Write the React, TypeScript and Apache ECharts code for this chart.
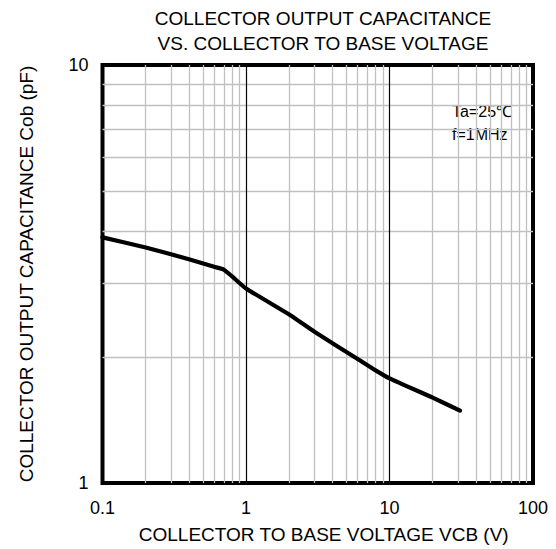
import React, { useEffect, useRef } from "react";
import * as echarts from "echarts";

const titleLines = ["COLLECTOR OUTPUT CAPACITANCE", "VS. COLLECTOR TO BASE VOLTAGE"];
const xName = "COLLECTOR TO BASE VOLTAGE VCB (V)";
const yName = "COLLECTOR OUTPUT CAPACITANCE Cob (pF)";
const noteLines = ["Ta=25\u2103", "f=1MHz"];

const vcb = [0.1, 0.2, 0.4, 0.6, 0.7, 0.8, 1, 2, 3, 6, 8, 10, 20, 31];
const cob = [3.87, 3.66, 3.43, 3.29, 3.24, 3.12, 2.92, 2.53, 2.3, 1.98, 1.86, 1.78, 1.6, 1.49];

const xMin = 0.1;
const xMax = 100;
const yMin = 1;
const yMax = 10;
const xMinorGrid = [0.2, 0.3, 0.4, 0.5, 0.6, 0.7, 0.8, 0.9, 2, 3, 4, 5, 6, 7, 8, 9, 20, 30, 40, 50, 60, 70, 80, 90];
const xMajorGrid = [1, 10];
const yMinorGrid = [2, 3, 4, 5, 6, 7, 8, 9];

const FONT = "'Liberation Sans', Arial, sans-serif";

export default function App() {
  const ref = useRef<HTMLDivElement>(null);
  useEffect(() => {
    if (!ref.current) return;
    const chart = echarts.init(ref.current, null, { renderer: "svg" });
    const vLines = (vals: number[]) => vals.map((v) => [{ coord: [v, yMin] }, { coord: [v, yMax] }]);
    const hLines = (vals: number[]) => vals.map((v) => [{ coord: [xMin, v] }, { coord: [xMax, v] }]);
    chart.setOption({
      animation: false,
      backgroundColor: "#fff",
      textStyle: { fontFamily: FONT },
      title: {
        text: titleLines.join("\n"),
        left: 318,
        top: 1,
        textAlign: "center",
        textStyle: { fontFamily: FONT, fontSize: 19, fontWeight: "normal", color: "#000", lineHeight: 25 },
      },
      grid: {
        left: 102.5,
        right: 23,
        top: 65,
        bottom: 66,
        show: true,
        borderWidth: 4,
        borderColor: "#000",
        backgroundColor: "transparent",
        z: 2,
      },
      xAxis: {
        type: "log",
        logBase: 10,
        min: xMin,
        max: xMax,
        name: xName,
        nameLocation: "middle",
        nameGap: 42,
        nameTextStyle: { fontFamily: FONT, fontSize: 19, color: "#000", padding: [0, 0, 0, 12] },
        axisLine: { show: false },
        axisTick: { show: false },
        splitLine: { show: false },
        axisLabel: {
          fontFamily: FONT,
          fontSize: 18,
          color: "#000",
          margin: 16,
          formatter: (v: number) => String(v),
        },
      },
      yAxis: {
        type: "log",
        logBase: 10,
        min: yMin,
        max: yMax,
        name: yName,
        nameLocation: "middle",
        nameGap: 67,
        nameTextStyle: { fontFamily: FONT, fontSize: 19, color: "#000" },
        axisLine: { show: false },
        axisTick: { show: false },
        splitLine: { show: false },
        axisLabel: { fontFamily: FONT, fontSize: 18, color: "#000", margin: 14, formatter: (v: number) => String(v) },
      },
      graphic: [
        {
          type: "rect",
          shape: { x: 440, y: 88, width: 74, height: 67 },
          style: { fill: "#fff" },
          z: 1.5,
        },
        {
          type: "text",
          x: 452,
          y: 100,
          z: 4,
          style: {
            text: noteLines.join("\n"),
            font: "16px 'Liberation Sans', Arial, sans-serif",
            fontSize: 16,
            fontFamily: FONT,
            fill: "#000",
            lineHeight: 23,
          },
        },
      ],
      series: [
        {
          type: "line",
          data: [],
          z: 1,
          silent: true,
          markLine: {
            silent: true,
            symbol: "none",
            label: { show: false },
            animation: false,
            lineStyle: { color: "#c0c0c0", width: 1.3, type: "solid" },
            data: [...vLines(xMinorGrid), ...hLines(yMinorGrid)],
          },
        },
        {
          type: "line",
          data: [],
          z: 1.8,
          silent: true,
          markLine: {
            silent: true,
            symbol: "none",
            label: { show: false },
            animation: false,
            lineStyle: { color: "#000", width: 1.2, type: "solid" },
            data: vLines(xMajorGrid),
          },
        },
        {
          type: "line",
          data: vcb.map((x, i) => [x, cob[i]]),
          showSymbol: false,
          symbol: "none",
          smooth: 0.15,
          z: 5,
          lineStyle: { color: "#000", width: 4.2, cap: "round", join: "round" },
        },
      ],
    });
    return () => chart.dispose();
  }, []);
  return <div ref={ref} style={{ width: 556, height: 549, position: "absolute", left: 0, top: 0 }} />;
}
